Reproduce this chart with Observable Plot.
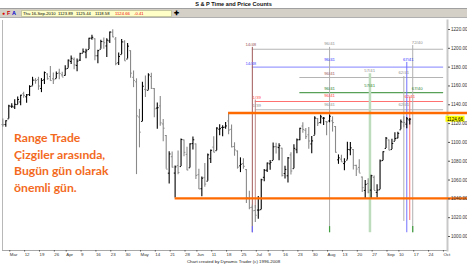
<!DOCTYPE html>
<html><head><meta charset="utf-8">
<script src="https://cdn.jsdelivr.net/npm/d3@7"></script>
<script src="https://cdn.jsdelivr.net/npm/@observablehq/plot@0.6"></script>
<style>
body{margin:0;width:467px;height:264px;overflow:hidden;background:#fff;font-family:"Liberation Sans",Arial,sans-serif;position:relative}
#title{height:9px;line-height:9px;font-size:5.6px;text-align:center;font-weight:bold;border-bottom:1px solid #a0a0a0;box-sizing:border-box;color:#111}
#bar{height:9px;background:#d4d0c8;position:relative;font-size:4.2px;box-sizing:border-box;border-bottom:1px solid #b0b0b0}
#bar span{position:absolute;top:1px;line-height:7px}
#yellow{position:absolute;left:21px;top:1px;width:151px;height:7px;background:#ffffc8;border:1px solid #c8c8a0;box-sizing:border-box}
#note{position:absolute;left:14px;top:130px;font-family:Lato,"Open Sans",sans-serif;font-weight:bold;font-size:12.2px;line-height:16.5px;color:#f36a1e}
#foot{position:absolute;left:0;width:467px;top:259px;line-height:5px;text-align:center;font-size:4.4px;color:#222}
#chart{position:absolute;left:0;top:18px}
</style></head>
<body>
<div id="title">S &amp; P Time and Price Counts</div>
<div id="bar">
  <span style="left:2px;color:#d00;font-size:5px">●</span>
  <span style="left:7px;color:#c00;font-weight:bold;font-size:5.5px">F</span>
  <span style="left:12px;color:#00c;font-weight:bold;font-size:5.5px">A</span>
  <div id="yellow"></div>
  <span style="left:23px">Thu 16-Sep-2010</span>
  <span style="left:58px">1123.89</span>
  <span style="left:76px">1125.44</span>
  <span style="left:95px">1118.58</span>
  <span style="left:115px;color:#e00">1124.66</span>
  <span style="left:134px;color:#e00">-0.41</span>
  <span style="left:174px;font-size:6px;font-weight:bold">✚</span>
</div>
<div id="chart"></div>
<div id="note">Range Trade<br>Çizgiler arasında,<br>Bugün gün olarak<br>önemli gün.</div>
<div id="foot">Chart created by Dynamic Trader (c) 1996-2008</div>
<script>
// trading days (2010) per month
const months = [
  ["Mar",[3,4,5,8,9,10,11,12,15,16,17,18,19,22,23,24,25,26,29,30,31]],
  ["Apr",[1,5,6,7,8,9,12,13,14,15,16,19,20,21,22,23,26,27,28,29,30]],
  ["May",[3,4,5,6,7,10,11,12,13,14,17,18,19,20,21,24,25,26,27,28]],
  ["Jun",[1,2,3,4,7,8,9,10,11,14,15,16,17,18,21,22,23,24,25,28,29,30]],
  ["Jul",[1,2,6,7,8,9,12,13,14,15,16,19,20,21,22,23,26,27,28,29,30]],
  ["Aug",[2,3,4,5,6,9,10,11,12,13,16,17,18,19,20,23,24,25,26,27,30,31]],
  ["Sep",[1,2,3,7,8,9,10,13,14,15,16]]
];
const firstIndex = 2; // Mar 3 is the 3rd trading day of March

const open = [
1119,1119,1125,1138.4,1137.6,1140.2,1143,1151.7,1148.5,1150.8,1159.9,1166.1,1166.7,1157.3,1166.5,1172.7,1170,1167.6,1167.7,1173.8,1171.8,
1171.2,1178.7,1186,1188.2,1181.8,1187.5,1194.9,1195.9,1198.7,1210.8,1210.2,1192.1,1199,1207.2,1202.5,1207.9,1217.1,1209.9,1184.6,1193.3,1206.8,
1188.6,1197.5,1169.2,1164.4,1127,1122.3,1156.4,1155.4,1170,1157.2,1136.5,1138.8,1119.6,1107.3,1067.3,1084.8,1067.4,1075.5,1074.3,1102.6,
1087.3,1073,1098.8,1098.4,1065.8,1050.8,1062.8,1058.8,1082.7,1095,1091.2,1114,1115.9,1116.2,1122.8,1113.9,1095.6,1090.9,1075.1,1077.5,1071.1,1040.6,
1031.1,1027.7,1028.1,1028.5,1062.9,1070.5,1077.2,1080.7,1095.6,1094.5,1093.9,1066.9,1064.5,1086.7,1072.1,1092.2,1102.9,1117.4,1112.8,1108.1,1098.4,
1107.5,1125.3,1121.1,1125.8,1122.1,1122.8,1122.9,1116.9,1081.5,1082.2,1077.5,1081.2,1092.1,1092.4,1075.6,1073.4,1063.2,1049,1056.3,1049.3,1062.9,1046.9,
1049.7,1080.7,1093.6,1102.6,1092.4,1101.2,1104.6,1113.4,1121.2,1119.4,1123.9];
const high = [
1125,1123,1139.4,1141,1145.4,1148.3,1150.2,1153.4,1150.9,1160.3,1169.2,1167.8,1169.2,1167.8,1174.7,1173,1180.7,1173.9,1174.9,1177.8,1174.6,
1181.4,1187.7,1191.8,1189.6,1188.6,1194.7,1199.2,1199,1210.7,1213.9,1210.2,1197.9,1208.6,1210.9,1210.3,1217.3,1219.8,1211.4,1195.1,1209.4,1208,
1205.1,1197.5,1175.9,1167.6,1135.1,1163.9,1170.5,1172.9,1173.6,1157.2,1141.9,1148.7,1124.3,1107.3,1090.2,1089.9,1074.8,1090.8,1103.5,1102.6,
1094.8,1098.6,1105.7,1098.4,1071.4,1063.2,1077.7,1087.8,1092,1105.9,1115.6,1118.7,1117.7,1121.1,1131.2,1118.5,1099.6,1090.9,1083.6,1082.6,1071.1,1048.1,
1033.6,1032.9,1042.5,1060.9,1071.3,1078.2,1080.8,1099.5,1099.1,1098.7,1093.9,1074.7,1083.9,1089,1097.5,1103.7,1115,1121,1114.7,1115.9,1106.4,
1127.3,1125.4,1128.8,1126.6,1122.1,1129.2,1127.2,1116.9,1086.7,1086.3,1082.6,1100.1,1099.8,1092.4,1075.6,1081.6,1063.2,1059.4,1061.5,1065.2,1064.4,1055.1,
1081.3,1090.1,1105.1,1102.6,1103.3,1110.3,1110.9,1123.9,1127.4,1126.5,1125.4];
const low = [
1116,1116,1125,1136,1134.9,1140,1138.9,1146.9,1141.5,1148.8,1159.9,1161.9,1155.3,1152.9,1161.6,1166,1165.1,1161.5,1167.7,1166.6,1169.3,
1170.7,1178.7,1182.8,1177.3,1175.1,1186,1194.7,1188.8,1198.7,1208.5,1186.8,1183.7,1199,1198.9,1190.2,1205.1,1211.1,1181.6,1181.8,1193.3,1186.3,
1188.6,1168.1,1158.2,1065.8,1094.2,1122.3,1147.7,1155.4,1156.1,1126.1,1114,1117.2,1100.7,1071.6,1055.9,1072.7,1040.8,1065.6,1074.3,1084.8,
1069.9,1072.9,1091.8,1060.5,1050,1042.2,1052.3,1058.8,1077.6,1089,1091.2,1107.1,1105.9,1113.9,1108.2,1094.2,1085.3,1071.6,1067.9,1071.5,1035.2,1028.3,
1010.9,1015,1018.4,1028.5,1058.2,1068.1,1070.5,1080.7,1087.7,1080.5,1063.3,1061.1,1056.9,1065.3,1072.1,1087.9,1101.8,1109.8,1103.1,1092.8,1088,
1107.5,1116.8,1119.5,1118.1,1107.2,1120.9,1111,1088.6,1076.7,1079,1069.9,1081.2,1085.8,1070.7,1063.9,1067.1,1046.7,1039.8,1045.4,1039.7,1048.8,1040.9,
1049.7,1080.4,1093.6,1091.2,1092.4,1101.2,1103.9,1113.4,1115.6,1114.6,1118.6];
const close = [
1118.8,1123,1138.7,1138.5,1140.5,1145.6,1150.2,1150,1150.5,1159.5,1166.2,1165.8,1159.9,1165.8,1174.2,1167.7,1165.7,1166.6,1173.2,1173.3,1169.4,
1178.1,1187.4,1189.4,1182.5,1186.4,1194.4,1196.5,1197.3,1210.7,1211.7,1192.1,1197.5,1207.2,1205.9,1208.7,1217.3,1212.1,1183.7,1191.4,1206.8,1186.7,
1202.3,1173.6,1165.9,1128.2,1110.9,1159.7,1155.8,1171.7,1157.4,1135.7,1136.9,1120.8,1115.1,1071.6,1087.7,1073.7,1074,1068,1103.1,1089.4,
1070.7,1098.4,1102.8,1064.9,1050.5,1062,1055.7,1086.8,1091.6,1089.6,1115.2,1114.6,1116,1117.5,1113.2,1095.3,1092,1073.7,1076.8,1074.6,1041.2,1030.7,
1027.4,1022.6,1028.1,1060.3,1070.3,1078,1078.8,1095.3,1095.2,1096.5,1064.9,1071.3,1083.5,1069.6,1093.7,1102.7,1115,1113.8,1106.1,1101.5,1101.6,
1125.9,1120.5,1127.2,1125.8,1121.6,1127.8,1121.1,1089.5,1083.6,1079.3,1079.4,1092.5,1094.2,1075.6,1071.7,1067.4,1051.9,1055.3,1047.2,1064.6,1048.9,1049.3,
1080.3,1090.1,1104.5,1091.8,1098.9,1104.2,1109.6,1121.9,1121.1,1125.1,1124.7];

// x-axis ticks (Fridays, trading-day index) and their labels
const tickIndex = [4,9,14,19,23,28,33,38,43,48,53,58,63,67,72,77,82,87,91,96,101,106,111,116,121,126,131,135,140,145,150];
const tickLabels = ["Mar","12","19","26","Apr","9","16","23","30","May","14","21","28","Jun","11","18","25","Jul","9","16","23","30","Aug","13","20","27","Sep","10","17","24","Oct"];
// y-axis ticks
const priceTicks = [1000,1020,1040,1060,1080,1100,1120,1140,1160,1180,1200,1220];
const lastClose = 1124.66;

// range trade lines (orange)
const rangeStart = [78, 60];
const rangePrice = [1131.2, 1040.5];

// price count lines
const levelPrice = [1199, 1180, 1169, 1153, 1143.5, 1134.7];
const levelStart = [86, 86, 102, 102, 87, 87];
const levelColor = ["#b4b4b4","#9c9cff","#b4b4b4","#58a058","#ff7070","#b4b4b4"];
const levelEnd = 150.4;

// time count verticals
const timeIndex = [86, 87, 112, 125.6, 137, 138, 139, 140];
const timeTop = [1201, 1145, 1201, 1173, 1170, 1185, 1148, 1203];
const timeBottom = [1004, 1030, 1004, 1004, 1016, 1004, 1017, 1004];
const timeColor = ["#a0585a","#c08888","#b0b0b0","#bcdcbc","#b0b0b0","#7070ff","#ff7070","#b0b0b0"];
const timeWidth = [1,1,1,2.5,1,1,1,1];
const timeTip = ["#6a6aff",null,"#40a040",null,null,null,null,"#40a040"];

// count labels
const labIndex = [85.5, 85.5, 87.5, 87.5, 112, 112, 112, 112, 112, 112, 125.5, 125.5, 141.5, 138.5, 137, 141.5, 139, 137];
const labPrice = [1202, 1182.5, 1146, 1137.5, 1203, 1186, 1171.5, 1156, 1148, 1139, 1175, 1158.5, 1205, 1186.5, 1172.5, 1156, 1147, 1138.5];
const labText = ["14/48","14/48","1/39","1/39","96/41","96/41","96/41","96/41","96/41","96/41","57/41","57/41","72/40","67/41","62/41","67/40","62/41","62/41"];
const labColor = ["#a0585a","#5050ff","#ff5050","#909090","#909090","#3030ff","#a0585a","#308030","#ff4040","#909090","#909090","#308030","#909090","#3030ff","#909090","#308030","#ff4040","#909090"];

const bars = [];
let k = 0;
for (const [m, days] of months) for (const d of days) {
  bars.push({i: firstIndex + k, o: open[k], h: high[k], l: low[k], c: close[k]});
  k++;
}
const barColor = d => d.c >= d.o ? "#000" : "#8a8a8a";

const ranges = rangePrice.map((p, j) => ({p, s: rangeStart[j]}));
const levels = levelPrice.map((p, j) => ({p, s: levelStart[j], col: levelColor[j]}));
const times = timeIndex.map((i, j) => ({i, t: timeTop[j], b: timeBottom[j], col: timeColor[j], w: timeWidth[j], tip: timeTip[j]}));
const tips = times.filter(d => d.tip);
const labs = labIndex.map((i, j) => ({i, p: labPrice[j], t: labText[j], col: labColor[j]}));

const chart = Plot.plot({
  width: 467, height: 246,
  marginLeft: 2, marginRight: 20, marginTop: 2, marginBottom: 14,
  x: {type: "linear", domain: [0, 151], range: [-3.6, 444.9], axis: null},
  y: {type: "linear", domain: [1000, 1220], range: [218, 11], axis: null},
  style: {fontFamily: "Liberation Sans, Arial, sans-serif", background: "transparent"},
  marks: [
    Plot.frame({anchor: "left", stroke: "#b8b8b8"}),
    Plot.frame({anchor: "bottom", stroke: "#a8a8a8"}),
    Plot.frame({anchor: "right", stroke: "#c8c8c8", strokeWidth: 2}),
    Plot.ruleY(levels, {y: "p", x1: "s", x2: levelEnd, stroke: "col", strokeWidth: 1.2}),
    Plot.ruleX(times, {x: "i", y1: "b", y2: "t", stroke: "col", strokeWidth: "w"}),
    Plot.ruleX(tips, {x: "i", y1: 1004, y2: 1010.5, stroke: "tip", strokeWidth: 1.2}),
    Plot.ruleX(bars, {x: "i", y1: "l", y2: "h", stroke: barColor, strokeWidth: 1.1}),
    Plot.link(bars, {x1: d => d.i - 0.45, x2: "i", y1: "o", y2: "o", stroke: barColor, strokeWidth: 1}),
    Plot.link(bars, {x1: "i", x2: d => d.i + 0.45, y1: "c", y2: "c", stroke: barColor, strokeWidth: 1}),
    Plot.ruleY(ranges, {y: "p", x1: "s", x2: 158.5, stroke: "#ff6a00", strokeWidth: 2.4}),
    Plot.text(labs, {x: "i", y: "p", text: "t", fill: "col", fontSize: 4.3, dy: -1.5}),
    Plot.rect([lastClose], {x1: 151.2, x2: 157.6, y1: d => d - 3.2, y2: d => d + 3.2, fill: "#ffff00"}),
    Plot.axisY({anchor: "right", ticks: priceTicks, tickSize: 2, tickPadding: 1.5, tickFormat: d => d.toFixed(2), fontSize: 4.6, stroke: "#555", fill: "#333"}),
    Plot.text([lastClose], {x: 151.5, y: d => d, text: d => d.toFixed(2), textAnchor: "start", fontSize: 4.6, fill: "#000"}),
    Plot.axisX({anchor: "bottom", ticks: tickIndex, tickFormat: (d) => tickLabels[tickIndex.indexOf(d)], tickSize: 1.5, tickPadding: 0.5, textAnchor: "start", dx: 1, fontSize: 4.4, stroke: "#555", fill: "#333"})
  ]
});
document.getElementById("chart").appendChild(chart);
</script>
</body></html>
